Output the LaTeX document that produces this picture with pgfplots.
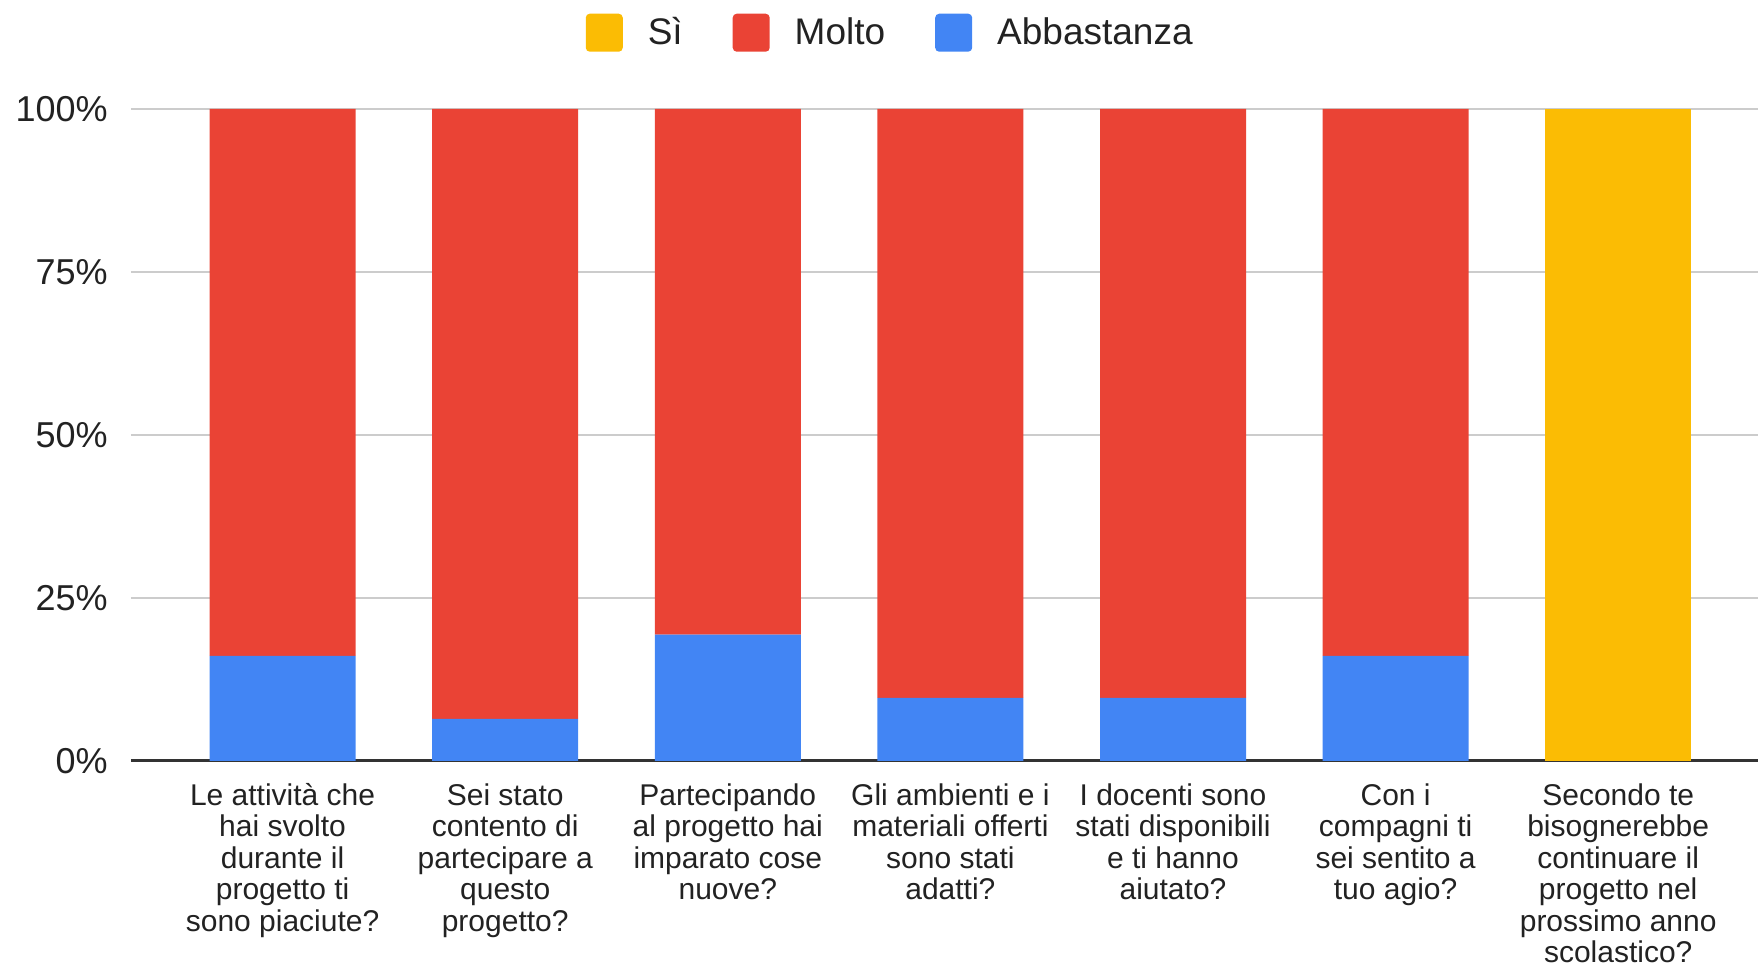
\documentclass[border=0pt]{standalone}
\usepackage{pgfplots}
\pgfplotsset{compat=1.18}
\usepackage{fontspec}
\setmainfont{Liberation Sans}
\definecolor{gyellow}{HTML}{FBBC04}
\definecolor{gred}{HTML}{EA4335}
\definecolor{gblue}{HTML}{4285F4}
\definecolor{ggrid}{HTML}{CCCCCC}
\definecolor{gtext}{HTML}{222222}
\definecolor{gaxis}{HTML}{333333}
\begin{document}
\begin{tikzpicture}
\useasboundingbox (0,0) rectangle (879pt,481.5pt);
\begin{axis}[
  at={(65.5pt,101pt)}, anchor=south west,
  scale only axis, width=813.5pt, height=326pt,
  xmin=-0.681, xmax=6.628, ymin=0, ymax=100,
  ybar stacked, bar width=73pt,
  axis x line*=bottom, axis y line*=left,
  x axis line style={draw=gaxis, line width=1.5pt, -},
  y axis line style={draw=none},
  ymajorgrids, grid style={draw=ggrid, line width=1pt},
  major tick length=0pt,
  xtick style={draw=none}, ytick style={draw=none},
  ytick={0,25,50,75,100},
  yticklabels={0\%,25\%,50\%,75\%,100\%},
  yticklabel style={font=\fontsize{18}{21}\selectfont, text=gtext, inner sep=0pt, xshift=-11.5pt},
  xtick={0,1,2,3,4,5,6},
  xticklabels={
    {Le attività che\\hai svolto\\durante il\\progetto ti\\sono piaciute?},
    {Sei stato\\contento di\\partecipare a\\questo\\progetto?},
    {Partecipando\\al progetto hai\\imparato cose\\nuove?},
    {Gli ambienti e i\\materiali offerti\\sono stati\\adatti?},
    {I docenti sono\\stati disponibili\\e ti hanno\\aiutato?},
    {Con i\\compagni ti\\sei sentito a\\tuo agio?},
    {Secondo te\\bisognerebbe\\continuare il\\progetto nel\\prossimo anno\\scolastico?}},
  xticklabel style={font=\fontsize{15}{15.75}\selectfont, text=gtext, align=center, inner sep=0pt, yshift=-11pt, anchor=north},
  reverse legend,
  legend columns=3,
  legend image code/.code={\fill[#1, rounded corners=2pt] (0pt,-9.5pt) rectangle (18.5pt,9.5pt);},
  legend style={at={(0.466,1.117)}, anchor=center, draw=none, fill=none, inner sep=0pt,
    font=\fontsize{18.5}{21}\selectfont,
    nodes={inner sep=0pt, text=gtext},
    /tikz/every odd column/.append style={column sep=12.5pt},
    /tikz/every even column/.append style={column sep=25pt}},
]
\addplot+[fill=gblue, draw=none] coordinates {(0,16.13) (1,6.45) (2,19.4) (3,9.68) (4,9.68) (5,16.13) (6,0)};
\addlegendentry{Abbastanza}
\addplot+[fill=gred, draw=none] coordinates {(0,83.87) (1,93.55) (2,80.6) (3,90.32) (4,90.32) (5,83.87) (6,0)};
\addlegendentry{Molto}
\addplot+[fill=gyellow, draw=none] coordinates {(0,0) (1,0) (2,0) (3,0) (4,0) (5,0) (6,100)};
\addlegendentry{Sì}
\end{axis}
\end{tikzpicture}
\end{document}
